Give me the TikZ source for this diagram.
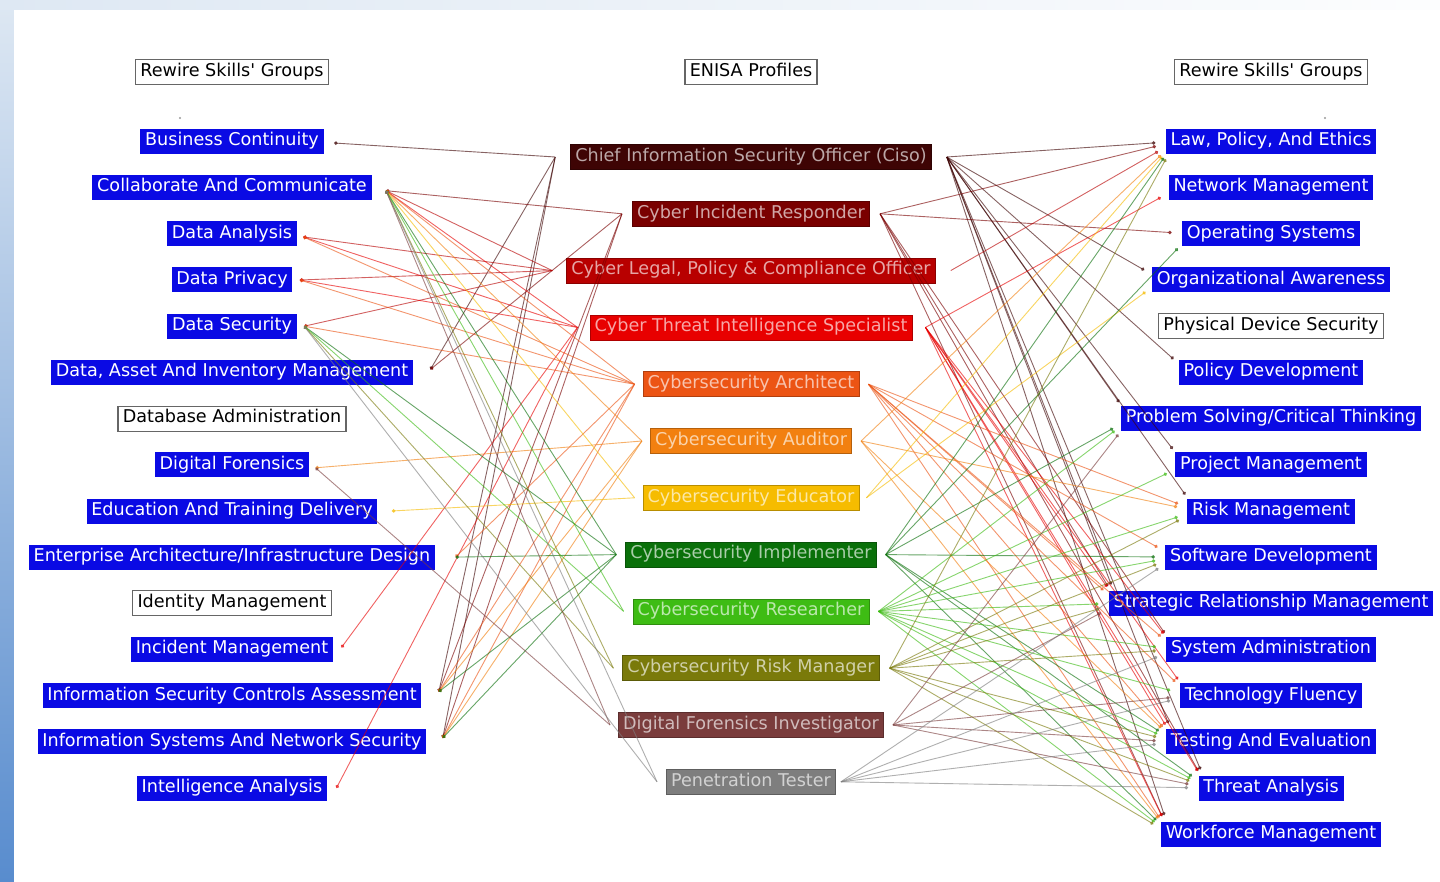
\documentclass[tikz,border=0pt]{standalone}
\usepackage{fontspec}
\setmainfont{DejaVu Sans}
\usetikzlibrary{arrows.meta,calc}
\definecolor{sk}{RGB}{10,10,228}
\definecolor{c-ciso}{RGB}{62,4,4}
\definecolor{c-cir}{RGB}{122,0,0}
\definecolor{c-clpco}{RGB}{184,0,0}
\definecolor{c-ctis}{RGB}{232,0,0}
\definecolor{c-arch}{RGB}{236,84,20}
\definecolor{c-aud}{RGB}{242,128,16}
\definecolor{c-edu}{RGB}{246,188,0}
\definecolor{c-impl}{RGB}{10,112,10}
\definecolor{c-res}{RGB}{62,188,20}
\definecolor{c-rm}{RGB}{122,122,10}
\definecolor{c-dfi}{RGB}{122,60,60}
\definecolor{c-pen}{RGB}{126,126,126}
\definecolor{stripT}{RGB}{222,232,243}
\definecolor{stripB}{RGB}{88,140,206}
\newcommand\lnk[2]{\draw[ledge=c-#1] (#1L) -- (#2A);}
\newcommand\rnk[2]{\draw[redge=c-#1] (#1R) -- ([xshift=5pt]#2.west);}
\begin{document}
\begin{tikzpicture}[x=0.5pt,y=-0.5pt,
  lbl/.style={font=\fontsize{8.8pt}{10pt}\selectfont, minimum height=12.5pt, inner xsep=2.4pt, inner ysep=0pt, text height=6.4pt, text depth=2.1pt},
  skill/.style={lbl, fill=sk, text=white},
  plain/.style={lbl, fill=white, draw=black!60, line width=0.6pt},
  prof/.style={lbl, fill=#1, text=#1!35!white, draw=#1!75!black, line width=0.3pt},
  ledge/.style={draw=#1, line width=0.45pt, opacity=0.62, -{Circle[length=1.8pt]}},
  redge/.style={ledge=#1, shorten >=10pt},
]
\useasboundingbox (0,0) rectangle (1440,882);
% background frame
\shade[top color=stripT, bottom color=stripB] (0,0) rectangle (14,882);
\shade[left color=stripT, right color=white!92!stripT] (0,0) rectangle (1440,10);
\fill[white] (14,10) rectangle (1440,882);
\fill[black!40] (180,118) circle (0.6pt);
\fill[black!40] (1325,118) circle (0.6pt);

% headers
\node[plain] (hdrL) at (232,72) {Rewire Skills\textquotesingle{} Groups};
\node[plain] (hdrM) at (751,72) {ENISA Profiles};
\node[plain] (hdrR) at (1271,72) {Rewire Skills\textquotesingle{} Groups};

% left skills
\node[skill] (bc)   at (232,141.5) {Business Continuity};
\node[skill] (cc)   at (232,187.7) {Collaborate And Communicate};
\node[skill] (da)   at (232,233.9) {Data Analysis};
\node[skill] (dp)   at (232,280.0) {Data Privacy};
\node[skill] (ds)   at (232,326.2) {Data Security};
\node[skill] (dam)  at (232,372.4) {Data, Asset And Inventory Management};
\node[plain] (dba)  at (232,418.6) {Database Administration};
\node[skill] (df)   at (232,464.8) {Digital Forensics};
\node[skill] (etd)  at (232,511.0) {Education And Training Delivery};
\node[skill] (ead)  at (232,557.1) {Enterprise Architecture/Infrastructure Design};
\node[plain] (idm)  at (232,603.3) {Identity Management};
\node[skill] (im)   at (232,649.5) {Incident Management};
\node[skill] (isca) at (232,695.7) {Information Security Controls Assessment};
\node[skill] (isns) at (232,741.9) {Information Systems And Network Security};
\node[skill] (ia)   at (232,788.0) {Intelligence Analysis};

% right skills
\node[skill] (law) at (1271,141.5) {Law, Policy, And Ethics};
\node[skill] (nm)  at (1271,187.7) {Network Management};
\node[skill] (os)  at (1271,233.9) {Operating Systems};
\node[skill] (oa)  at (1271,280.0) {Organizational Awareness};
\node[plain] (pds) at (1271,326.2) {Physical Device Security};
\node[skill] (pd)  at (1271,372.4) {Policy Development};
\node[skill] (ps)  at (1271,418.6) {Problem Solving/Critical Thinking};
\node[skill] (pm)  at (1271,464.8) {Project Management};
\node[skill] (rk)  at (1271,511.0) {Risk Management};
\node[skill] (sd)  at (1271,557.1) {Software Development};
\node[skill] (srm) at (1271,603.3) {Strategic Relationship Management};
\node[skill] (sa)  at (1271,649.5) {System Administration};
\node[skill] (tf)  at (1271,695.7) {Technology Fluency};
\node[skill] (te)  at (1271,741.9) {Testing And Evaluation};
\node[skill] (ta)  at (1271,788.0) {Threat Analysis};
\node[skill] (wm)  at (1271,834.2) {Workforce Management};

% ENISA profiles
\node[prof=c-ciso]  (ciso)  at (751,157.0) {Chief Information Security Officer (Ciso)};
\node[prof=c-cir]   (cir)   at (751,213.8) {Cyber Incident Responder};
\node[prof=c-clpco] (clpco) at (751,270.6) {Cyber Legal, Policy \& Compliance Officer};
\node[prof=c-ctis]  (ctis)  at (751,327.4) {Cyber Threat Intelligence Specialist};
\node[prof=c-arch]  (arch)  at (751,384.2) {Cybersecurity Architect};
\node[prof=c-aud]   (aud)   at (751,441.0) {Cybersecurity Auditor};
\node[prof=c-edu]   (edu)   at (751,497.8) {Cybersecurity Educator};
\node[prof=c-impl]  (impl)  at (751,554.6) {Cybersecurity Implementer};
\node[prof=c-res]   (res)   at (751,611.4) {Cybersecurity Researcher};
\node[prof=c-rm]    (rm)    at (751,668.2) {Cybersecurity Risk Manager};
\node[prof=c-dfi]   (dfi)   at (751,725.0) {Digital Forensics Investigator};
\node[prof=c-pen]   (pen)   at (751,781.8) {Penetration Tester};

% anchors of profiles
\foreach \pp/\xl/\xr in {ciso/7.5/7.5, cir/5/5, clpco/7/7.5, ctis/6/6.5, arch/4/4.5, aud/4/4.5, edu/4/3.5, impl/4.5/4.5, res/4.5/4.5, rm/4.5/5, dfi/4/4.5, pen/4.5/2.5} {
  \coordinate (\pp L) at ([xshift=-\xl pt]\pp.west);
  \coordinate (\pp R) at ([xshift=\xr pt]\pp.east);
}
% anchors of left skills
\foreach \ss/\dx/\dy in {bc/5/-0.75, cc/7/-1.5, da/3/-1.5, dp/3.5/0, ds/3.5/0, dam/8.5/1.5, df/3/-1.5, etd/7/0, ead/10/0, im/4/1, isca/8.5/2, isns/8/2, ia/4.5/0} {
  \coordinate (\ss A) at ([xshift=\dx pt, yshift=\dy pt]\ss.east);
}

% left connectors
\foreach \pp/\lst in {ciso/{bc,dam,isca,isns}, cir/{cc,dam,isca,isns}, clpco/{cc,da,dp,ds}, ctis/{cc,da,dp,im,ia}, arch/{cc,da,dp,ds,ead,isca,isns}, aud/{cc,df,isca,isns}, edu/{cc,etd}, impl/{cc,ds,ead,isca,isns}, res/{cc,ds}, rm/{cc,ds}, dfi/{cc,df}, pen/{cc,ds}} {
  \foreach \ss in \lst {\lnk{\pp}{\ss}}
}
% right connectors
\foreach \pp/\lst in {ciso/{law,oa,pd,ps,pm,rk,srm,te,ta,wm}, cir/{law,os,sa,srm,ta,wm}, clpco/{law}, ctis/{nm,srm,sa,tf,te,ta,wm}, arch/{rk,sd,srm,sa,tf,te,wm}, aud/{law,rk,te,wm}, edu/{law,oa}, impl/{law,os,ps,sd,te,ta,wm}, res/{ps,pm,rk,sd,srm,sa,tf,te,ta,wm}, rm/{law,rk,sd,srm,sa,te,ta,wm}, dfi/{ps,srm,tf,te,ta}, pen/{sd,sa,tf,te,ta}} {
  \foreach \ss in \lst {\rnk{\pp}{\ss}}
}
\end{tikzpicture}
\end{document}
